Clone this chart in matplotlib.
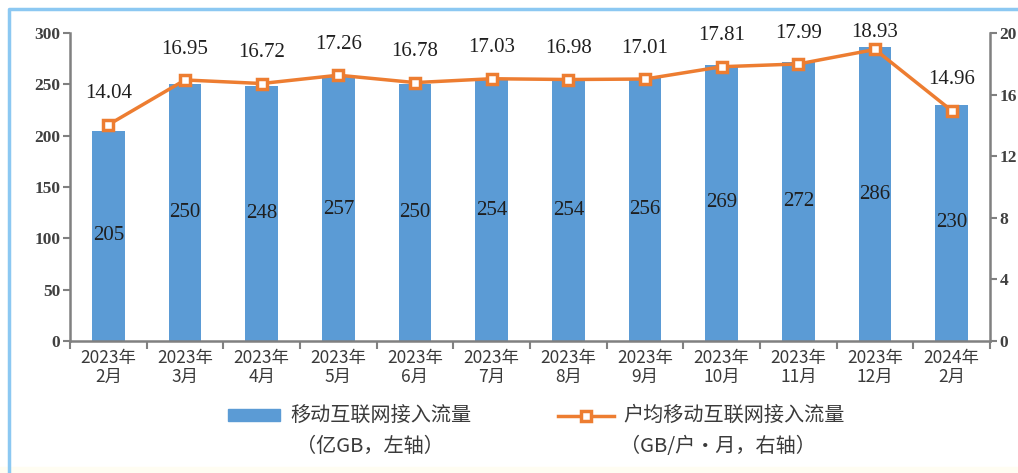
import numpy as np
import matplotlib
matplotlib.use("Agg")
import matplotlib.pyplot as plt
from matplotlib.patches import Rectangle
from matplotlib.lines import Line2D

plt.rcParams['font.family'] = ['Liberation Serif', 'Noto Sans CJK SC', 'DejaVu Sans']

months = ["2023年\n2月", "2023年\n3月", "2023年\n4月", "2023年\n5月", "2023年\n6月",
          "2023年\n7月", "2023年\n8月", "2023年\n9月", "2023年\n10月", "2023年\n11月",
          "2023年\n12月", "2024年\n2月"]
traffic = [205, 250, 248, 257, 250, 254, 254, 256, 269, 272, 286, 230]
per_user = [14.04, 16.95, 16.72, 17.26, 16.78, 17.03, 16.98, 17.01, 17.81, 17.99, 18.93, 14.96]

BAR = "#5B9BD5"
LINE = "#ED7D31"
AXC = "#808080"

fig = plt.figure(figsize=(10.18, 4.73), dpi=100)
# pale strip at the bottom, light blue frame on the top and left
fig.patches.append(Rectangle((0, 0), 1, 6 / 473, transform=fig.transFigure,
                             color="#FFFDF2", zorder=0))
fig.lines.append(Line2D([9 / 1018, 9 / 1018, 1], [0, 1 - 9 / 473, 1 - 9 / 473],
                        transform=fig.transFigure, color="#8CC8F2", linewidth=2.5))

ax = fig.add_axes([70 / 1018, 1 - 341 / 473, 920 / 1018, 308 / 473])
x = np.arange(len(months))
ax.bar(x, traffic, width=0.43, color=BAR, zorder=2)
ax.set_xlim(-0.5, len(months) - 0.5)
ax.set_ylim(0, 300)
ax.set_yticks(range(0, 301, 50))
ax.set_xticks(np.arange(-0.5, len(months), 1))
ax.set_xticklabels([])
ax.set_xticks(x, minor=True)
ax.set_xticklabels(months, minor=True, fontsize=12.5, color="#3A3A3A",
                   family=['Noto Sans CJK SC'], linespacing=1.05)
ax.tick_params(axis="x", which="minor", length=0, pad=6)
ax.tick_params(axis="x", which="major", length=6, width=1.5, color=AXC)
ax.tick_params(axis="y", length=5, width=1.5, color=AXC, labelsize=12.5, pad=2)
for t in ax.get_yticklabels():
    t.set_fontweight("bold")
    t.set_color("#404040")
for s in ["top", "right"]:
    ax.spines[s].set_visible(False)
for s in ["left", "bottom"]:
    ax.spines[s].set_color(AXC)
    ax.spines[s].set_linewidth(1.8)

for xi, v in zip(x, traffic):
    ax.text(xi, v / 2, str(v), ha="center", va="center", fontsize=15, color="#1F1F1F", zorder=3)

ax2 = ax.twinx()
ax2.set_ylim(0, 20)
ax2.set_yticks(range(0, 21, 4))
ax2.plot(x, per_user, color=LINE, linewidth=2.5, marker="s", markersize=7,
         markerfacecolor="white", markeredgecolor=LINE, markeredgewidth=2.5, zorder=4)
ax2.tick_params(axis="y", length=5, width=1.5, color=AXC, labelsize=12.5, pad=2)
for t in ax2.get_yticklabels():
    t.set_fontweight("bold")
    t.set_color("#404040")
for s in ["top", "left", "bottom"]:
    ax2.spines[s].set_visible(False)
ax2.spines["right"].set_color(AXC)
ax2.spines["right"].set_linewidth(1.8)

# labels sit above the markers, but not higher than the top of the axes
for xi, v in zip(x, per_user):
    ax2.text(xi, min(v + 2.0, 20.05), f"{v:.2f}", ha="center", va="center",
             fontsize=15, color="#1F1F1F", clip_on=False)

# legend drawn by hand below the axes
fig.patches.append(Rectangle((228 / 1018, 1 - 421 / 473), 52 / 1018, 12 / 473,
                             transform=fig.transFigure, color=BAR))
fig.text(290 / 1018, 1 - 415 / 473, "移动互联网接入流量", fontsize=14.5, va="center",
         color="#3A3A3A", family=['Noto Sans CJK SC'])
fig.text(370 / 1018, 1 - 446 / 473, "（亿GB，左轴）", fontsize=14.5, va="center", ha="center",
         color="#3A3A3A", family=['Noto Sans CJK SC'])
fig.lines.append(Line2D([558 / 1018, 614 / 1018], [1 - 416 / 473] * 2, transform=fig.transFigure,
                        color=LINE, linewidth=2.5))
fig.lines.append(Line2D([586 / 1018], [1 - 416 / 473], transform=fig.transFigure, marker="s",
                        markersize=7, markerfacecolor="white", markeredgecolor=LINE,
                        markeredgewidth=2.5, linestyle="none"))
fig.text(623 / 1018, 1 - 415 / 473, "户均移动互联网接入流量", fontsize=14.5, va="center",
         color="#3A3A3A", family=['Noto Sans CJK SC'])
fig.text(718 / 1018, 1 - 446 / 473, "（GB/户・月，右轴）", fontsize=14.5, va="center", ha="center",
         color="#3A3A3A", family=['Noto Sans CJK SC'])

fig.savefig("out.png", dpi=100)
